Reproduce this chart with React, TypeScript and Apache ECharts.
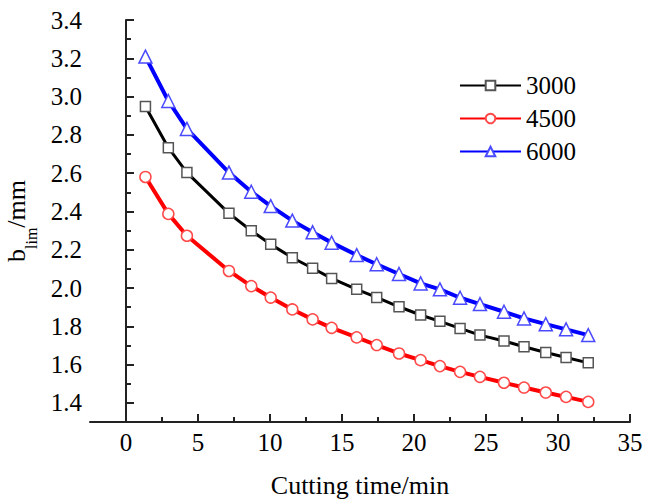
import React, { useEffect, useRef } from "react";
import * as echarts from "echarts";

const times = [1.35, 2.94, 4.23, 7.15, 8.7, 10.05, 11.55, 12.96, 14.28, 16.02, 17.41, 18.96, 20.46, 21.8, 23.2, 24.58, 26.25, 27.64, 29.15, 30.56, 32.1];
const s3000 = [2.948, 2.733, 2.603, 2.39, 2.299, 2.228, 2.158, 2.103, 2.05, 1.993, 1.951, 1.902, 1.859, 1.826, 1.789, 1.754, 1.723, 1.693, 1.663, 1.637, 1.609];
const s4500 = [2.58, 2.387, 2.273, 2.089, 2.01, 1.95, 1.888, 1.836, 1.792, 1.742, 1.702, 1.658, 1.623, 1.592, 1.562, 1.536, 1.505, 1.48, 1.454, 1.431, 1.405];
const s6000 = [3.209, 2.977, 2.831, 2.603, 2.503, 2.428, 2.352, 2.291, 2.237, 2.172, 2.124, 2.073, 2.024, 1.993, 1.949, 1.916, 1.876, 1.841, 1.811, 1.784, 1.754];
const seriesNames = ["3000", "4500", "6000"];

const xMajorTicks = [0, 5, 10, 15, 20, 25, 30, 35];
const xMinorTicks = [2.5, 7.5, 12.5, 17.5, 22.5, 27.5, 32.5];
const yMajorTicks = [1.4, 1.6, 1.8, 2.0, 2.2, 2.4, 2.6, 2.8, 3.0, 3.2, 3.4];
const yMinorTicks = [1.5, 1.7, 1.9, 2.1, 2.3, 2.5, 2.7, 2.9, 3.1, 3.3];

const FONT = "Times New Roman";
const AXIS_COLOR = "#222";

export default function App() {
  const ref = useRef<HTMLDivElement>(null);
  useEffect(() => {
    if (!ref.current) return;
    const chart = echarts.init(ref.current, undefined, { renderer: "svg" });
    const pair = (arr: number[]) => times.map((t, i) => [t, arr[i]]);
    const axisLine = { show: true, lineStyle: { color: AXIS_COLOR, width: 2 } };
    chart.setOption({
      animation: false,
      backgroundColor: "#fff",
      textStyle: { fontFamily: FONT, color: "#000" },
      grid: { left: 90, right: 16, top: 20, bottom: 77, outerBoundsMode: "none", containLabel: false },
      legend: {
        orient: "vertical",
        left: 459,
        top: 73,
        padding: 0,
        itemWidth: 61,
        itemHeight: 12,
        itemGap: 8,
        data: seriesNames,
        textStyle: { fontFamily: FONT, fontSize: 25, color: "#000" },
      },
      xAxis: [
        {
          type: "value",
          min: -2.5,
          max: 35,
          position: "bottom",
          name: "Cutting time/min",
          nameLocation: "middle",
          nameGap: 50,
          nameTextStyle: { fontFamily: FONT, fontSize: 26, color: "#000" },
          axisLine,
          splitLine: { show: false },
          axisTick: { show: true, inside: true, length: 8, customValues: xMajorTicks, lineStyle: { color: AXIS_COLOR, width: 2 } },
          axisLabel: { customValues: xMajorTicks, fontFamily: FONT, fontSize: 25, color: "#000", margin: 8, formatter: (v: number) => String(v) },
        },
        {
          type: "value",
          min: -2.5,
          max: 35,
          position: "bottom",
          axisLine: { show: false },
          splitLine: { show: false },
          axisTick: { show: true, inside: true, length: 5, customValues: xMinorTicks, lineStyle: { color: AXIS_COLOR, width: 2 } },
          axisLabel: { show: false },
        },
      ],
      yAxis: [
        {
          type: "value",
          min: 1.3,
          max: 3.4,
          position: "left",
          name: "{b|b}{s|lim}{b|/mm}",
          nameLocation: "middle",
          nameRotate: 90,
          nameGap: 48,
          nameTextStyle: {
            fontFamily: FONT,
            fontSize: 26,
            color: "#000",
            rich: {
              b: { fontFamily: FONT, fontSize: 26, lineHeight: 26, verticalAlign: "top", color: "#000" },
              s: { fontFamily: FONT, fontSize: 16, lineHeight: 16, verticalAlign: "top", padding: [20, 0, 0, 0], color: "#000" },
            },
          },
          axisLine,
          splitLine: { show: false },
          axisTick: { show: true, inside: true, length: 8, customValues: yMajorTicks, lineStyle: { color: AXIS_COLOR, width: 2 } },
          axisLabel: { customValues: yMajorTicks, fontFamily: FONT, fontSize: 25, color: "#000", margin: 8, formatter: (v: number) => v.toFixed(1) },
        },
        {
          type: "value",
          min: 1.3,
          max: 3.4,
          position: "left",
          axisLine: { show: false },
          splitLine: { show: false },
          axisTick: { show: true, inside: true, length: 5, customValues: yMinorTicks, lineStyle: { color: AXIS_COLOR, width: 2 } },
          axisLabel: { show: false },
        },
      ],
      series: [
        {
          name: seriesNames[0],
          type: "line",
          data: pair(s3000),
          symbol: "rect",
          symbolSize: 10,
          lineStyle: { color: "#000", width: 3 },
          itemStyle: { color: "#fff", borderColor: "#555", borderWidth: 1.5 },
        },
        {
          name: seriesNames[1],
          type: "line",
          data: pair(s4500),
          symbol: "circle",
          symbolSize: 11,
          lineStyle: { color: "#ff0000", width: 4 },
          itemStyle: { color: "#fff", borderColor: "#ff4a4a", borderWidth: 1.5 },
        },
        {
          name: seriesNames[2],
          type: "line",
          data: pair(s6000),
          symbol: "triangle",
          symbolSize: 13,
          lineStyle: { color: "#0000ff", width: 4 },
          itemStyle: { color: "#fff", borderColor: "#4a4aff", borderWidth: 1.5 },
        },
      ],
    });
    return () => chart.dispose();
  }, []);
  return <div ref={ref} style={{ position: "fixed", left: 0, top: 0, width: 646, height: 499 }} />;
}
